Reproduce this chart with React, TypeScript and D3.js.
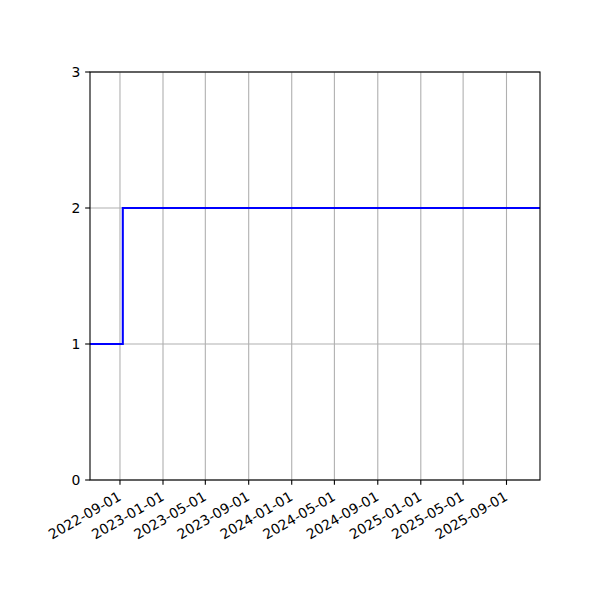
import React from "react";
import * as d3 from "d3";

const stepDates = ["2022-06-08", "2022-09-09", "2025-12-05"];
const stepValues = [1, 2, 2];
const xTickLabels = [
  "2022-09-01", "2023-01-01", "2023-05-01", "2023-09-01", "2024-01-01",
  "2024-05-01", "2024-09-01", "2025-01-01", "2025-05-01", "2025-09-01",
];
const yTicks = [0, 1, 2, 3];
const xDomain = ["2022-06-08", "2025-12-05"];

const W = 600, H = 600;
const L = 90, R = 540, T = 72, B = 480;
const FONT = "DejaVu Sans, sans-serif";
const FS = 13.9;
const TICK = 4.86;
const PAD = 4.86;

export default function App() {
  const parse = (s: string) => new Date(s + "T00:00:00Z");
  const x = d3.scaleUtc().domain(xDomain.map(parse)).range([L, R]);
  const y = d3.scaleLinear().domain([0, 3]).range([B, T]);
  const pts = stepDates.map((d, i) => [x(parse(d)), y(stepValues[i])] as [number, number]);
  const line = d3.line().curve(d3.curveStepAfter)(pts) || "";
  const xt = xTickLabels.map((s) => ({ s, px: x(parse(s)) }));

  return (
    <svg width={W} height={H} style={{ display: "block", margin: -8 }} xmlns="http://www.w3.org/2000/svg">
      <rect x={0} y={0} width={W} height={H} fill="#fff" />
      <defs>
        <clipPath id="clip">
          <rect x={L} y={T} width={R - L} height={B - T} />
        </clipPath>
      </defs>
      {xt.map((t) => (
        <line key={"gx" + t.s} x1={t.px} x2={t.px} y1={T} y2={B} stroke="#b0b0b0" strokeWidth={1.1} />
      ))}
      {yTicks.map((v) => (
        <line key={"gy" + v} x1={L} x2={R} y1={y(v)} y2={y(v)} stroke="#b0b0b0" strokeWidth={1.1} />
      ))}
      <path d={line} fill="none" stroke="#0000ff" strokeWidth={2.08} clipPath="url(#clip)" />
      <rect x={L} y={T} width={R - L} height={B - T} fill="none" stroke="#000" strokeWidth={1.1} />
      {xt.map((t) => (
        <g key={"tx" + t.s}>
          <line x1={t.px} x2={t.px} y1={B} y2={B + TICK} stroke="#000" strokeWidth={1.1} />
          <text
            transform={`translate(${t.px - 3.5},${B + TICK + PAD}) rotate(-30)`}
            textAnchor="end"
            dy="0.8em"
            fontFamily={FONT}
            fontSize={FS}
            fill="#000"
          >
            {t.s}
          </text>
        </g>
      ))}
      {yTicks.map((v) => (
        <g key={"ty" + v}>
          <line x1={L - TICK} x2={L} y1={y(v)} y2={y(v)} stroke="#000" strokeWidth={1.1} />
          <text
            x={L - TICK - PAD}
            y={y(v)}
            dy="0.35em"
            textAnchor="end"
            fontFamily={FONT}
            fontSize={FS}
            fill="#000"
          >
            {v}
          </text>
        </g>
      ))}
    </svg>
  );
}
